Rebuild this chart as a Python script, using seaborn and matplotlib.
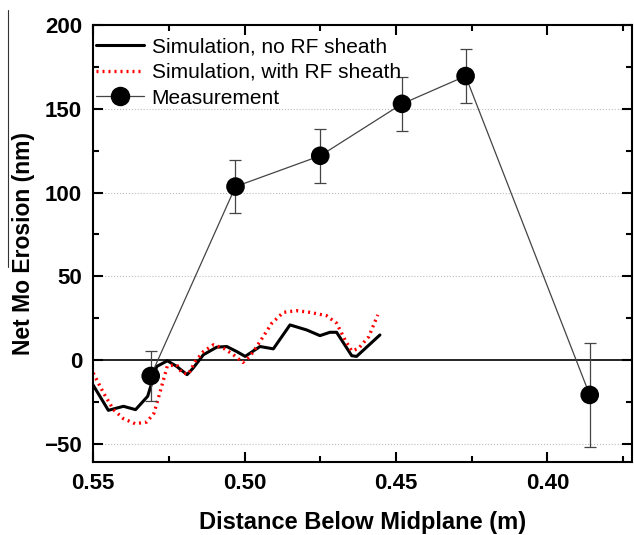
import numpy as np
import pandas as pd
import matplotlib
matplotlib.use("Agg")
import matplotlib.pyplot as plt
from matplotlib.lines import Line2D
from matplotlib.ticker import MultipleLocator
import seaborn as sns

# simulation, no RF sheath
sim_x = [0.550, 0.545, 0.540, 0.536, 0.532, 0.529, 0.5255, 0.5224, 0.519, 0.517,
         0.5136, 0.5092, 0.5059, 0.5026, 0.4998, 0.4949, 0.4905, 0.485, 0.4795,
         0.4751, 0.4718, 0.4696, 0.4646, 0.463, 0.4553]
sim_y = [-15, -30, -27.6, -29.6, -21.6, -3.8, -0.4, -3.8, -8.7, -4.8,
         3.2, 7.7, 8.1, 5.1, 2.2, 8.1, 6.7, 21, 18,
         14.6, 16.6, 16.6, 2.6, 2.2, 15]

# simulation, with RF sheath
rf_x = [0.550, 0.5466, 0.5433, 0.540, 0.5361, 0.5323, 0.5299, 0.5277, 0.5255,
        0.5224, 0.5207, 0.5185, 0.5163, 0.5136, 0.5103, 0.507, 0.5037, 0.5006,
        0.4982, 0.4949, 0.491, 0.4872, 0.4828, 0.4784, 0.4729, 0.4696, 0.4668,
        0.4646, 0.4624, 0.459, 0.456]
rf_y = [-7.7, -19.6, -29.6, -35, -38, -37, -31.6, -17.7, -3.4,
        -2.8, -7.7, -8.3, -0.8, 5.1, 9.1, 7.1, 3.2, -1.4,
        2.2, 11.1, 22, 28.5, 29.5, 28.5, 26.5, 22, 12,
        5.5, 6.9, 13.9, 27]

# measurement
meas_x = [0.531, 0.503, 0.475, 0.448, 0.427, 0.386]
meas_y = [-9.5, 103.6, 122, 153, 169.6, -20.8]
meas_err = [15, 16, 16, 16, 16, 31]

sns.set_style("ticks")
plt.rcParams['font.family'] = ['Liberation Sans', 'DejaVu Sans']
plt.rcParams.update({'text.color': 'black', 'axes.labelcolor': 'black',
                     'xtick.color': 'black', 'ytick.color': 'black',
                     'axes.edgecolor': 'black'})

fig = plt.figure(figsize=(6.34, 5.35), dpi=100)
ax = fig.add_axes([0.147, 0.136, 0.85, 0.817])

# grid lines and zero line
for yv in [-50, 50, 100, 150]:
    ax.axhline(yv, color='#bbbbbb', lw=0.8, ls=':', zorder=0)
ax.axhline(0, color='black', lw=1.2, zorder=1)

sim = pd.DataFrame({'x': sim_x, 'y': sim_y})
rf = pd.DataFrame({'x': rf_x, 'y': rf_y})
meas = pd.DataFrame({'x': meas_x, 'y': meas_y, 'err': meas_err})

sns.lineplot(data=sim, x='x', y='y', sort=False, color='black', lw=2.2, ax=ax)
sns.lineplot(data=rf, x='x', y='y', sort=False, color='red', lw=2.4,
             linestyle=(0, (0.6, 1.2)), ax=ax)
ax.errorbar(meas['x'], meas['y'], yerr=meas['err'], fmt='none', ecolor='#444444',
            elinewidth=0.9, capsize=4, capthick=0.9, zorder=3)
sns.lineplot(data=meas, x='x', y='y', sort=False, color='#444444', lw=0.9, ax=ax)
sns.scatterplot(data=meas, x='x', y='y', color='black', s=180, edgecolor='none',
                zorder=5, ax=ax)

ax.set_xlim(0.55, 0.372)
ax.set_ylim(-61, 200)
ax.xaxis.set_minor_locator(MultipleLocator(0.025))
ax.yaxis.set_major_locator(MultipleLocator(50))
ax.yaxis.set_minor_locator(MultipleLocator(25))
ax.set_xticks([0.55, 0.50, 0.45, 0.40])
ax.set_xticklabels(['0.55', '0.50', '0.45', '0.40'])
ax.tick_params(which='both', direction='in', top=True, right=True, width=1.5)
ax.tick_params(which='major', length=7, labelsize=16, pad=8)
ax.tick_params(which='minor', length=4)
for lab in ax.get_xticklabels() + ax.get_yticklabels():
    lab.set_fontweight('bold')
for sp in ax.spines.values():
    sp.set_linewidth(1.5)

ax.set_xlabel('Distance Below Midplane (m)', fontsize=17, fontweight='bold', labelpad=12)
ax.set_ylabel('Net Mo Erosion (nm)', fontsize=16.5, fontweight='bold', labelpad=7)

handles = [
    Line2D([], [], color='black', lw=2.2),
    Line2D([], [], color='red', lw=2.4, ls=(0, (0.6, 1.2))),
    Line2D([], [], color='#444444', lw=0.9, marker='o', markersize=13,
           markerfacecolor='black', markeredgecolor='black'),
]
labels = ['Simulation, no RF sheath', 'Simulation, with RF sheath', 'Measurement']
ax.legend(handles, labels, loc='upper left', bbox_to_anchor=(0.0, 0.98),
          frameon=False, fontsize=15, handlelength=2.3, handletextpad=0.35,
          labelspacing=0.33, borderaxespad=0.0, borderpad=0.15)

# thin vertical line at the left edge of the original picture
fig.add_artist(Line2D([8 / 634, 8 / 634], [1 - 10 / 535, 1 - 267 / 535],
                      transform=fig.transFigure, color='#333333', lw=0.8))

fig.savefig('out.png', dpi=100)
